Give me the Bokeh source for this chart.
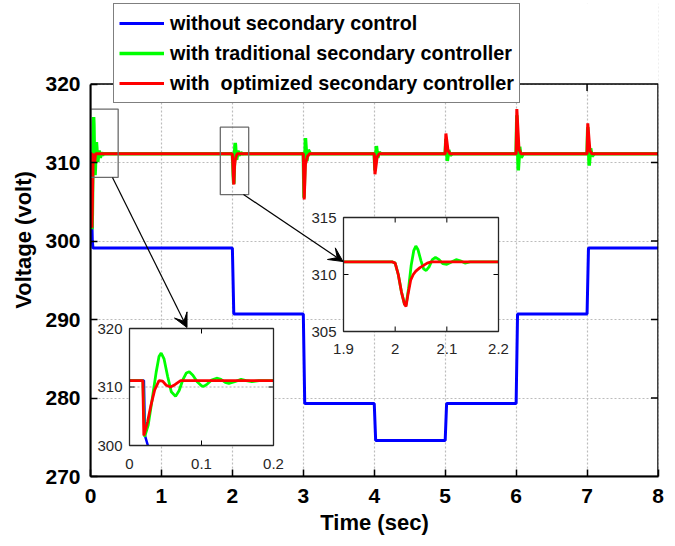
import numpy as np
from bokeh.plotting import figure
from bokeh.models import Range1d, FixedTicker, Legend, LegendItem, Arrow, VeeHead
from bokeh.embed import file_html
from bokeh.resources import INLINE
from bokeh.core.properties import value

# ---------------- data ----------------
x_ticks = [0, 1, 2, 3, 4, 5, 6, 7, 8]
y_ticks = [270, 280, 290, 300, 310, 320]

series_names = ["without secondary control",
                "with traditional secondary controller",
                "with  optimized secondary controller"]

t_blue = [0, 0.020, 0.0215, 0.0255, 0.035, 2.0, 2.02, 3.0, 3.02, 4.0, 4.02,
          5.0, 5.02, 6.0, 6.02, 7.0, 7.02, 8.0]
v_blue = [311.1, 311.1, 301.7, 300.0, 299.1, 299.1, 290.7, 290.7, 279.3, 279.3, 274.6,
          274.6, 279.3, 279.3, 290.7, 290.7, 299.1, 299.1]

t_green = [0, 0.0185, 0.021, 0.026, 0.031, 0.037, 0.041, 0.044, 0.048, 0.053, 0.058, 0.064,
           0.069, 0.074, 0.079, 0.083, 0.088, 0.094, 0.1, 0.103, 0.108, 0.114, 0.121, 0.127,
           0.133, 0.138, 0.146, 0.155, 0.162, 0.17, 0.18, 0.2,
           1.9, 1.995, 2.0, 2.006, 2.012, 2.018, 2.021, 2.026, 2.031, 2.036, 2.04, 2.044, 2.05,
           2.055, 2.06, 2.066, 2.072, 2.078, 2.085, 2.092, 2.1, 2.109, 2.118, 2.126, 2.135,
           2.145, 2.2,
           3.0, 3.01, 3.03, 3.05, 3.07, 3.1,
           4.0, 4.01, 4.03, 4.05, 4.07, 4.1,
           5.0, 5.01, 5.03, 5.05, 5.07, 5.1,
           6.0, 6.01, 6.03, 6.05, 6.07, 6.1,
           7.0, 7.01, 7.03, 7.05, 7.07, 7.1, 8.0]
v_green = [311.1, 311.1, 301.5, 303.5, 307.5, 312.5, 315.2, 315.8, 314.8, 311.8, 309.2, 308.4,
           309.4, 311.2, 312.4, 312.6, 312.0, 310.9, 310.2, 310.1, 310.5, 311.2, 311.5, 311.3,
           310.8, 310.6, 310.9, 311.3, 311.1, 310.9, 311.1, 311.1,
           311.1, 311.1, 311.0, 310.0, 308.5, 307.4, 307.3, 308.8, 310.8, 312.1, 312.5, 312.2, 311.2,
           310.5, 310.35, 310.7, 311.3, 311.5, 311.3, 310.95, 310.9, 311.1, 311.3, 311.2, 311.0,
           311.1, 311.1,
           311.1, 305.5, 313.1, 310.2, 311.6, 311.1,
           311.1, 309.0, 312.1, 310.6, 311.3, 311.1,
           311.1, 313.0, 310.2, 311.6, 310.9, 311.1,
           311.1, 316.0, 309.0, 312.0, 310.6, 311.1,
           311.1, 314.5, 309.6, 311.8, 310.8, 311.1, 311.1]

t_red = [0, 0.0185, 0.0199, 0.025, 0.03, 0.035, 0.041, 0.046, 0.051, 0.057, 0.063, 0.071, 0.2,
         1.9, 1.995, 2.0, 2.006, 2.012, 2.018, 2.021, 2.025, 2.03, 2.035, 2.04, 2.048, 2.055,
         2.062, 2.07, 2.2,
         3.0, 3.012, 3.03, 3.06, 3.09,
         4.0, 4.01, 4.04, 4.07,
         5.0, 5.01, 5.04, 5.07,
         6.0, 6.01, 6.04, 6.07,
         7.0, 7.01, 7.04, 7.07, 8.0]
v_red = [311.1, 311.1, 301.7, 304.0, 307.0, 309.5, 311.1, 311.0, 310.3, 310.0, 310.4, 311.1, 311.1,
         311.1, 311.1, 311.0, 310.0, 308.5, 307.4, 307.2, 308.3, 309.5, 310.0, 310.3, 310.6, 310.8,
         311.0, 311.1, 311.1,
         311.1, 305.3, 309.8, 310.8, 311.1,
         311.1, 308.5, 310.7, 311.1,
         311.1, 313.7, 311.5, 311.1,
         311.1, 316.8, 311.7, 311.1,
         311.1, 315.0, 311.5, 311.1, 311.1]

inset1_x = [0, 0.2]
inset1_y = [300, 320]
inset1_xticks = [0, 0.1, 0.2]
inset1_xlabels = ["0", "0.1", "0.2"]
inset1_yticks = [300, 310, 320]
inset1_ylabels = ["300", "310", "320"]

inset2_x = [1.9, 2.2]
inset2_y = [305, 315]
inset2_xticks = [1.9, 2.0, 2.1, 2.2]
inset2_xlabels = ["1.9", "2", "2.1", "2.2"]
inset2_yticks = [305, 310, 315]
inset2_ylabels = ["305", "310", "315"]

zoom1_box = ([0.0, 0.39], [308.1, 316.8])
zoom2_box = ([1.83, 2.23], [305.9, 314.5])

# ---------------- layout ----------------
W, H = 675, 546
X0, X1, Y0, Y1 = 0, 8, 270, 320
BOX_L, BOX_R, BOX_T, BOX_B = 90, 657.5, 83.5, 476      # data box on screen
FL, FR, FT, FB = 90, 17, 3, 70                           # frame borders (frame extends above box for legend)
FW, FH = W - FL - FR, H - FT - FB
PXX = (BOX_R - BOX_L) / (X1 - X0)
PXY = (BOX_B - BOX_T) / (Y1 - Y0)
Y_TOP = Y0 + FH / PXY
FONT = "Liberation Sans"
BLUE, GREEN, RED = "#0000ff", "#00ff00", "#ff0000"


def to_main(sx, sy):
    return (X0 + (sx - BOX_L) / PXX, Y0 + (BOX_B - sy) / PXY)


p = figure(width=W, height=H, output_backend="svg", toolbar_location=None,
           x_range=Range1d(X0, X0 + FW / PXX), y_range=Range1d(Y0, Y_TOP),
           min_border_left=FL, min_border_right=FR, min_border_top=FT, min_border_bottom=FB)
p.background_fill_color = "white"
p.border_fill_color = "white"
p.outline_line_color = None

p.xaxis.ticker = FixedTicker(ticks=x_ticks)
p.yaxis.ticker = FixedTicker(ticks=y_ticks)
p.xaxis.bounds = (X0, X1)
p.yaxis.bounds = (Y0, Y1)
for ax in (p.xaxis[0], p.yaxis[0]):
    ax.major_label_text_font = FONT
    ax.major_label_text_font_style = "bold"
    ax.major_label_text_font_size = "21px"
    ax.major_label_text_color = "black"
    ax.axis_label_text_font = FONT
    ax.axis_label_text_font_style = "bold"
    ax.axis_label_text_font_size = "22px"
    ax.axis_label_text_color = "black"
    ax.major_tick_in = 7
    ax.major_tick_out = 0
    ax.major_tick_line_width = 1.5
    ax.minor_tick_line_color = None
    ax.axis_line_width = 2
    ax.axis_line_color = "black"
p.xaxis.axis_label = "Time (sec)"
p.yaxis.axis_label = "Voltage (volt)"
p.xaxis.major_label_standoff = 12
p.xaxis.axis_label_standoff = 4
p.yaxis.major_label_standoff = 10
p.yaxis.axis_label_standoff = 6

p.grid.grid_line_color = "#bcbcbc"
p.grid.grid_line_dash = "2 2"
p.grid.grid_line_width = 1.2

# white cover above the data box (hides grid above 320)
p.quad(left=X0, right=X1 + 1, bottom=Y1, top=Y_TOP + 5, fill_color="white", line_color=None)

# main curves
rb = p.line(t_blue, v_blue, line_color=BLUE, line_width=3)
rg = p.line(t_green, v_green, line_color=GREEN, line_width=3.5)
rr = p.line(t_red, v_red, line_color=RED, line_width=3)

# data box outline and inner ticks on top/right edges
p.quad(left=X0, right=X1, bottom=Y0, top=Y1, fill_color=None, line_color="black", line_width=1.5)
tk = 7
p.segment(x0=x_ticks[1:-1], y0=[Y1] * 7, x1=x_ticks[1:-1], y1=[Y1 - tk / PXY] * 7,
          line_color="black", line_width=1.5)
p.segment(x0=[X1] * 4, y0=y_ticks[1:-1], x1=[X1 - tk / PXX] * 4, y1=y_ticks[1:-1],
          line_color="black", line_width=1.5)

# zoom boxes in main plot
for bx, by in (zoom1_box, zoom2_box):
    p.quad(left=bx[0], right=bx[1], bottom=by[0], top=by[1], fill_color=None,
           line_color="#6b6b6b", line_width=1.3)

# arrows
for (sx0, sy0), (sx1, sy1) in (((112, 177), (186.5, 327)), ((243, 194), (342.5, 261))):
    xs, ys = to_main(sx0, sy0)
    xe, ye = to_main(sx1, sy1)
    p.add_layout(Arrow(end=VeeHead(size=14, fill_color="black", line_color="black"),
                       x_start=xs, y_start=ys, x_end=xe, y_end=ye,
                       line_color="black", line_width=1.2))


def inset(name, xd, yd, box, xticks, xlabels, yticks, ylabels, grid_y, xlab_off, ylab_off):
    sx0, sx1, sy0, sy1 = box  # screen box (left, right, top, bottom)
    ax_ = (xd[1] - xd[0]) / (sx1 - sx0)
    ay_ = (yd[1] - yd[0]) / (sy1 - sy0)
    p.extra_x_ranges[name] = Range1d(xd[0] - (sx0 - FL) * ax_, xd[1] + (FL + FW - sx1) * ax_)
    p.extra_y_ranges[name] = Range1d(yd[0] - (FT + FH - sy1) * ay_, yd[1] + (sy0 - FT) * ay_)
    kw = dict(x_range_name=name, y_range_name=name)
    p.quad(left=xd[0], right=xd[1], bottom=yd[0], top=yd[1], fill_color="white",
           line_color=None, **kw)
    for gy in grid_y:
        p.line([xd[0], xd[1]], [gy, gy], line_color="#b0b0b0", line_dash="2 2", line_width=1.2, **kw)
    for tt, vv, col, lw in ((t_blue, v_blue, BLUE, 2.5), (t_green, v_green, GREEN, 2.8),
                            (t_red, v_red, RED, 2.8)):
        tt = np.array(tt); vv = np.array(vv)
        m = (tt >= xd[0]) & (tt <= xd[1]) & (vv >= yd[0]) & (vv <= yd[1])
        if m.sum() > 1:
            p.line(tt[m], vv[m], line_color=col, line_width=lw, **kw)
    tl = 5
    inner_x = xticks[1:-1]
    inner_y = yticks[1:-1]
    n, k = len(inner_x), len(inner_y)
    p.segment(x0=inner_x, y0=[yd[0]] * n, x1=inner_x, y1=[yd[0] + tl * ay_] * n,
              line_color="black", line_width=1, **kw)
    p.segment(x0=inner_x, y0=[yd[1]] * n, x1=inner_x, y1=[yd[1] - tl * ay_] * n,
              line_color="black", line_width=1, **kw)
    p.segment(x0=[xd[0]] * k, y0=inner_y, x1=[xd[0] + tl * ax_] * k, y1=inner_y,
              line_color="black", line_width=1, **kw)
    p.segment(x0=[xd[1]] * k, y0=inner_y, x1=[xd[1] - tl * ax_] * k, y1=inner_y,
              line_color="black", line_width=1, **kw)
    p.quad(left=xd[0], right=xd[1], bottom=yd[0], top=yd[1], fill_color=None,
           line_color="#262626", line_width=1.3, **kw)
    p.text(x=xticks, y=[yd[0]] * len(xticks), text=xlabels, text_align="center",
           text_baseline="middle", y_offset=xlab_off, text_font=value(FONT),
           text_font_size="15px", text_color="#262626", **kw)
    p.text(x=[xd[0]] * len(yticks), y=yticks, text=ylabels, text_align="right",
           text_baseline="middle", x_offset=ylab_off, text_font=value(FONT),
           text_font_size="15px", text_color="#262626", **kw)


inset("in1", inset1_x, inset1_y, (129, 273, 328, 445), inset1_xticks, inset1_xlabels,
      inset1_yticks, inset1_ylabels, [310], 18, -7)
inset("in2", inset2_x, inset2_y, (343, 498, 217, 331), inset2_xticks, inset2_xlabels,
      inset2_yticks, inset2_ylabels, [], 17, -7)

legend = Legend(items=[LegendItem(label=series_names[0], renderers=[rb]),
                       LegendItem(label=series_names[1], renderers=[rg]),
                       LegendItem(label=series_names[2], renderers=[rr])],
                location=(23, 373))
legend.label_text_font = FONT
legend.label_text_font_style = "bold"
legend.label_text_font_size = "19.8px"
legend.label_text_color = "black"
legend.border_line_color = "black"
legend.border_line_width = 1
legend.background_fill_color = "white"
legend.background_fill_alpha = 1
legend.glyph_width = 45
legend.glyph_height = 28
legend.label_height = 28
legend.label_standoff = 6
legend.spacing = 2
legend.padding = 5
legend.margin = 0
p.add_layout(legend)

open("out.html", "w").write(file_html(p, INLINE))
